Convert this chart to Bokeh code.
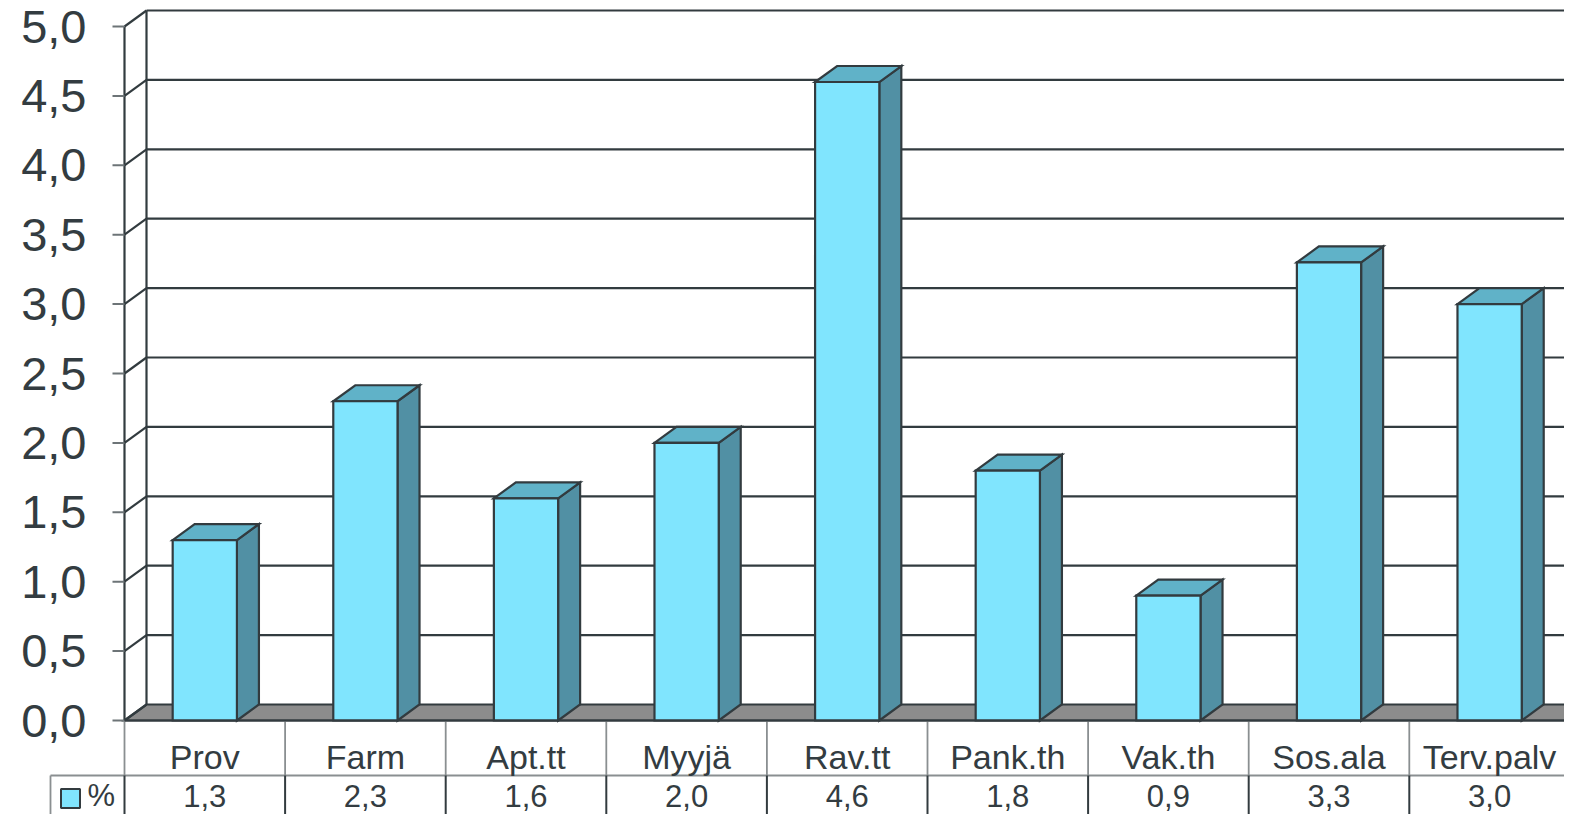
from bokeh.plotting import figure
from bokeh.models import Range1d
from bokeh.core.properties import value
from bokeh.embed import file_html
from bokeh.resources import INLINE

# ---- data ----
categories = ["Prov", "Farm", "Apt.tt", "Myyjä", "Rav.tt", "Pank.th", "Vak.th", "Sos.ala", "Terv.palv"]
percent = [1.3, 2.3, 1.6, 2.0, 4.6, 1.8, 0.9, 3.3, 3.0]
y_ticks = [0.0, 0.5, 1.0, 1.5, 2.0, 2.5, 3.0, 3.5, 4.0, 4.5, 5.0]
series_name = "%"

def fmt(v):
    return f"{v:.1f}".replace(".", ",")

# ---- geometry (screen pixels of the reference) ----
W, H = 1564, 814
OX, OY = 124.0, 720.0          # screen position of (x=0, y=0)
PX_X = 160.6                   # pixels per category slot
PX_Y = 138.8                   # pixels per value unit
DX = 22 / PX_X                 # depth offset in data units
DY = 16 / PX_Y

def sx(px):   # screen x -> data x
    return (px - OX) / PX_X
def sy(py):   # screen y -> data y
    return (OY - py) / PX_Y

p = figure(width=W, height=H, output_backend="svg", toolbar_location=None,
           x_axis_type=None, y_axis_type=None,
           x_range=Range1d(sx(0), sx(W)), y_range=Range1d(sy(H), sy(0)),
           min_border=0, min_border_left=0, min_border_right=0,
           min_border_top=0, min_border_bottom=0)
p.outline_line_color = None
p.background_fill_color = "white"
p.border_fill_color = "white"

DARK = "#323b3f"
GRAY = "#8a8f91"
TXT = "#333c41"
FONT = value("Liberation Sans")
LW = 2.2
n = len(categories)
XR = n + 0.3

# floor
p.patch([0, XR, XR + DX, DX], [0, 0, DY, DY], fill_color="#8c8c8c",
        line_color=DARK, line_width=LW, line_join="miter")

# back wall gridlines, left wall diagonals, left axis
gx, gy = [], []
for v in y_ticks:
    if v > 0:
        gx.append([DX, XR + DX]); gy.append([v + DY, v + DY])
    gx.append([0, DX]); gy.append([v, v + DY])
gx.append([DX, DX]); gy.append([DY, y_ticks[-1] + DY])
gx.append([0, 0]); gy.append([0, y_ticks[-1]])
p.multi_line(gx, gy, line_color=DARK, line_width=LW)

# tick marks
p.multi_line([[sx(112), 0] for _ in y_ticks], [[v, v] for v in y_ticks],
             line_color="#6d7477", line_width=2)

# y tick labels
p.text(x=[sx(86)] * len(y_ticks), y=y_ticks, text=[fmt(v) for v in y_ticks],
       text_font=FONT, text_font_size="47px", text_color=TXT,
       text_align="right", text_baseline="middle")

# bars
BW0, BW1 = 0.3, 0.7
fx, fy, tx, ty, ssx, ssy = [], [], [], [], [], []
for i, v in enumerate(percent):
    a, b = i + BW0, i + BW1
    fx.append([a, b, b, a]); fy.append([0, 0, v, v])
    tx.append([a, b, b + DX, a + DX]); ty.append([v, v, v + DY, v + DY])
    ssx.append([b, b + DX, b + DX, b]); ssy.append([0, DY, v + DY, v])
p.patches(ssx, ssy, fill_color="#5190a4", line_color=DARK, line_width=LW, line_join="miter")
p.patches(tx, ty, fill_color="#60b2c8", line_color=DARK, line_width=LW, line_join="miter")
p.patches(fx, fy, fill_color="#80e5fe", line_color=DARK, line_width=LW, line_join="miter")

# data table
row1 = sy(775)
bottom = sy(830)
left_leg = sx(50)
p.multi_line([[k, k] for k in range(n + 1)], [[0, row1] for _ in range(n + 1)],
             line_color=GRAY, line_width=1.8)
p.multi_line([[left_leg, n + 0.3], [left_leg, left_leg]], [[row1, row1], [row1, bottom]],
             line_color=GRAY, line_width=1.8)
p.multi_line([[k, k] for k in range(n + 1)], [[row1, bottom] for _ in range(n + 1)],
             line_color=DARK, line_width=2)
p.line([0, n + 0.3], [0, 0], line_color=DARK, line_width=LW)

p.text(x=[i + 0.5 for i in range(n)], y=[sy(756)] * n, text=categories,
       text_font=FONT, text_font_size="34px", text_color=TXT,
       text_align="center", text_baseline="middle")
p.text(x=[i + 0.5 for i in range(n)], y=[sy(795)] * n, text=[fmt(v) for v in percent],
       text_font=FONT, text_font_size="31px", text_color=TXT,
       text_align="center", text_baseline="middle")

# legend key
p.scatter(x=[sx(70)], y=[sy(798)], marker="square", size=19,
          fill_color="#80e5fe", line_color=DARK, line_width=2)
p.text(x=[sx(87)], y=[sy(795)], text=[series_name],
       text_font=FONT, text_font_size="31px", text_color=TXT,
       text_align="left", text_baseline="middle")

open("out.html", "w").write(file_html(p, INLINE))
